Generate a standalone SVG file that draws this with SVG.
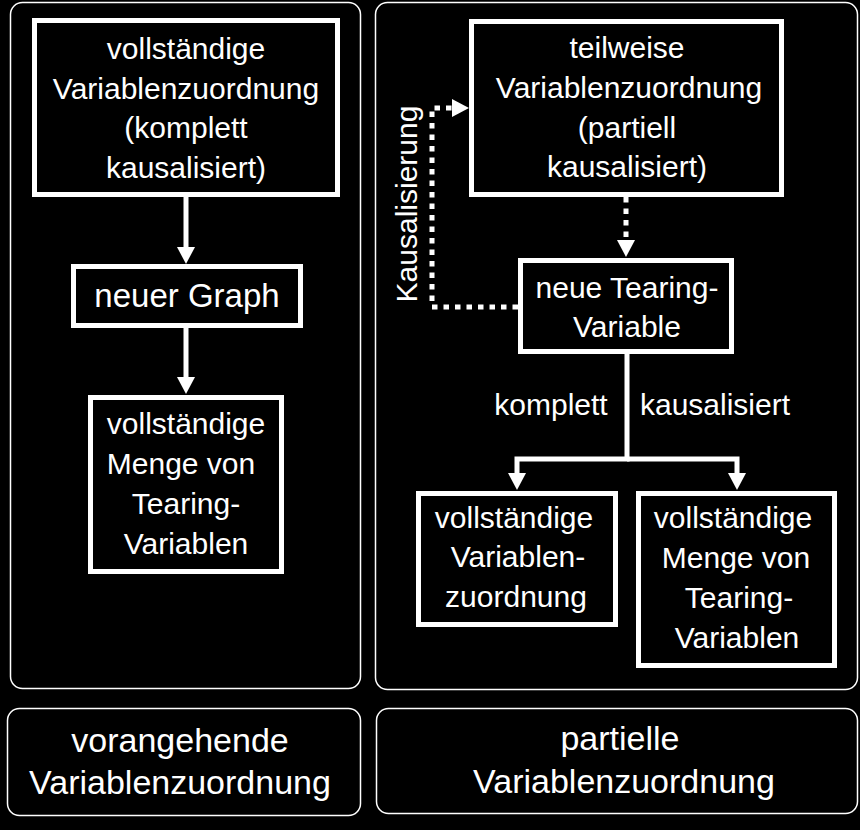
<svg xmlns="http://www.w3.org/2000/svg" width="860" height="830" viewBox="0 0 860 830">
<defs>
<style>
.panel{fill:#000;stroke:#fff;stroke-width:1.5}
.node{fill:#000;stroke:#fff;stroke-width:5}
.t{fill:#fff;font-family:"Liberation Sans",Arial,sans-serif;font-size:30px;text-anchor:middle}
.big{font-size:34px}
.c{fill:none;stroke:#fff;stroke-width:5;stroke-linejoin:miter}
.dot{stroke-dasharray:5.5 6}
</style>
<marker id="ah" markerUnits="userSpaceOnUse" markerWidth="17" markerHeight="18" refX="9" refY="9" orient="auto" viewBox="0 0 17 18">
<path d="M0,0 L17,9 L0,18 z" fill="#fff"/>
</marker>
</defs>
<rect width="860" height="830" fill="#000"/>
<g id="panel-left"><rect class="panel" x="10.5" y="2.5" width="350" height="686" rx="12"/></g>
<g id="panel-right"><rect class="panel" x="375.5" y="2.5" width="482" height="687" rx="12"/></g>
<g id="label-left"><rect class="panel" x="7.5" y="708.5" width="353" height="107" rx="12"/>
<text class="t big" x="180" y="752">vorangehende</text>
<text class="t big" x="180" y="794">Variablenzuordnung</text></g>
<g id="label-right"><rect class="panel" x="376.5" y="708.5" width="481" height="105" rx="12"/>
<text class="t big" x="620" y="750">partielle</text>
<text class="t big" x="624" y="793">Variablenzuordnung</text></g>

<g id="connectors">
<path class="c" d="M186,197 V256" marker-end="url(#ah)"/>
<path class="c" d="M186,328 V386" marker-end="url(#ah)"/>
<path class="c dot" d="M626,197 V249" marker-end="url(#ah)"/>
<path class="c dot" d="M518,307 H432 V108 H461" marker-end="url(#ah)"/>
<path class="c" d="M627,354 V459 H517 V482" marker-end="url(#ah)"/>
<path class="c" d="M627,459 H737 V482" marker-end="url(#ah)"/>
<text class="t" x="551" y="415">komplett</text>
<text class="t" x="715" y="415">kausalisiert</text>
<text class="t" transform="translate(417,204) rotate(-90)">Kausalisierung</text>
</g>

<g id="n-vollst-zuordnung-komplett"><rect class="node" x="34.5" y="20.5" width="303" height="174"/>
<text class="t" x="186" y="59">vollständige</text>
<text class="t" x="186" y="99">Variablenzuordnung</text>
<text class="t" x="186" y="138">(komplett</text>
<text class="t" x="186" y="178">kausalisiert)</text></g>

<g id="n-neuer-graph"><rect class="node" x="73.5" y="266.5" width="227" height="59"/>
<text class="t" x="187" y="307" style="font-size:33px">neuer Graph</text></g>

<g id="n-menge-left"><rect class="node" x="90.5" y="397.5" width="191" height="174"/>
<text class="t" x="186" y="434">vollständige</text>
<text class="t" x="181" y="474">Menge von</text>
<text class="t" x="186" y="514">Tearing-</text>
<text class="t" x="186" y="554">Variablen</text></g>

<g id="n-teilweise"><rect class="node" x="471.5" y="21.5" width="310" height="173"/>
<text class="t" x="627" y="58">teilweise</text>
<text class="t" x="629" y="98">Variablenzuordnung</text>
<text class="t" x="627" y="138">(partiell</text>
<text class="t" x="627" y="177">kausalisiert)</text></g>

<g id="n-neue-tearing"><rect class="node" x="520.5" y="260.5" width="211" height="91"/>
<text class="t" x="627" y="298">neue Tearing-</text>
<text class="t" x="627" y="337">Variable</text></g>

<g id="n-vollst-zuordnung"><rect class="node" x="418.5" y="493.5" width="197" height="131"/>
<text class="t" x="514" y="528">vollständige</text>
<text class="t" x="518" y="567">Variablen-</text>
<text class="t" x="516" y="607">zuordnung</text></g>

<g id="n-menge-right"><rect class="node" x="638.5" y="493.5" width="196" height="172"/>
<text class="t" x="733" y="528">vollständige</text>
<text class="t" x="736" y="568">Menge von</text>
<text class="t" x="739" y="608">Tearing-</text>
<text class="t" x="737" y="648">Variablen</text></g>
</svg>
